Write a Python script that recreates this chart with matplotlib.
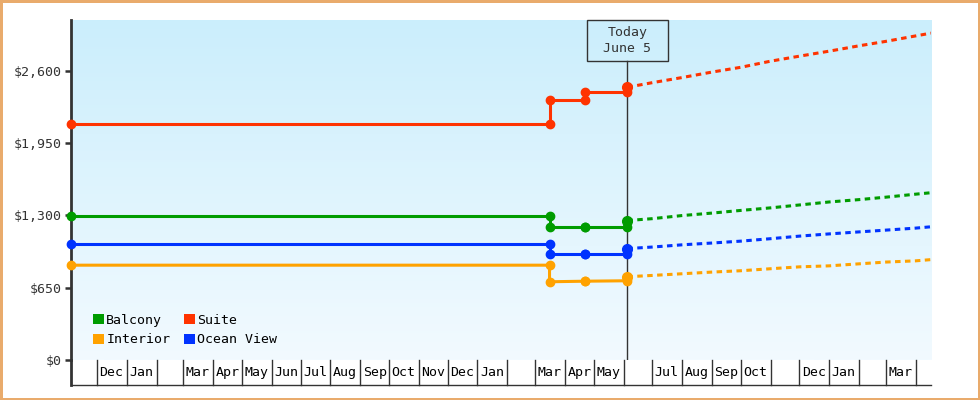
import numpy as np
import matplotlib
matplotlib.use('Agg')
import matplotlib.pyplot as plt
import matplotlib.dates as mdates
from matplotlib.patches import Patch, Rectangle

# ---------------- du lieu ----------------
x_start = np.datetime64('2022-11-04')
x_end = np.datetime64('2025-04-17')
today = np.datetime64('2024-06-05')

# gia lich su (bac thang, co diem o ca hai goc)
hist_dates = np.array(['2022-11-04', '2024-03-16', '2024-03-16',
                       '2024-04-22', '2024-04-22', '2024-06-05'], dtype='datetime64[D]')
suite_hist = [2122, 2122, 2337, 2337, 2412, 2412]
balcony_hist = [1291, 1291, 1199, 1199, 1199, 1199]
ocean_hist = [1046, 1046, 948, 948, 948, 948]
interior_hist = [852, 852, 703, 708, 708, 712]

# du bao (net dut)
fc_dates = np.array(['2024-06-05', '2024-07-01', '2024-08-01', '2024-09-01', '2024-10-01',
                     '2024-11-01', '2024-12-01', '2025-01-01', '2025-02-01', '2025-03-01',
                     '2025-04-01', '2025-04-17'], dtype='datetime64[D]')
suite_fc = [2451, 2492, 2538, 2587, 2630, 2685, 2730, 2775, 2823, 2863, 2912, 2937]
balcony_fc = [1253, 1270, 1298, 1320, 1344, 1367, 1393, 1420, 1441, 1463, 1490, 1503]
ocean_fc = [1001, 1015, 1035, 1051, 1068, 1090, 1113, 1133, 1151, 1167, 1185, 1197]
interior_fc = [748, 760, 775, 790, 802, 820, 837, 846, 864, 880, 891, 902]

y_ticks = [0, 650, 1300, 1950, 2600]

month_starts = np.arange(np.datetime64('2022-11'), np.datetime64('2025-05'),
                         dtype='datetime64[M]').astype('datetime64[D]')
month_labels = ['', 'Dec', 'Jan', '', 'Mar', 'Apr', 'May', 'Jun', 'Jul', 'Aug', 'Sep', 'Oct',
                'Nov', 'Dec', 'Jan', '', 'Mar', 'Apr', 'May', '', 'Jul', 'Aug', 'Sep', 'Oct',
                '', 'Dec', 'Jan', '', 'Mar', '']

# ---------------- style ----------------
C_BAL = '#009c00'
C_SUI = '#ff3300'
C_INT = '#ffa200'
C_OCE = '#0033ff'
DARK = '#333333'
plt.rcParams['font.family'] = ['DejaVu Sans Mono']
FS = 9.5

fig = plt.figure(figsize=(9.8, 4), dpi=100)
fig.patch.set_facecolor('white')
fig.patch.set_edgecolor('#e9ab6c')
fig.patch.set_linewidth(2.5)
ax = fig.add_axes([71 / 980, 40 / 400, 860 / 980, 340 / 400])

# nen gradient
grad = np.linspace(0, 1, 256).reshape(-1, 1)
top_c = np.array([203, 238, 252]) / 255
bot_c = np.array([242, 250, 255]) / 255
img = top_c[None, None, :] * (1 - grad[:, :, None]) + bot_c[None, None, :] * grad[:, :, None]
ax.imshow(img, extent=[0, 1, 0, 1], transform=ax.transAxes, aspect='auto', zorder=0)

series = [
    ('Balcony', C_BAL, balcony_hist, balcony_fc),
    ('Interior', C_INT, interior_hist, interior_fc),
    ('Suite', C_SUI, suite_hist, suite_fc),
    ('Ocean View', C_OCE, ocean_hist, ocean_fc),
]
for name, c, h, f in series:
    ax.plot(hist_dates, h, color=c, lw=2.2, marker='o', ms=6, zorder=4, clip_on=False)
    ax.plot(fc_dates, f, color=c, lw=2.2, linestyle=(0, (1.8, 1.45)), zorder=4)
    ax.plot(fc_dates[:1], f[:1], color=c, marker='o', ms=7, zorder=5, clip_on=False)

ax.set_xlim(x_start, x_end)
ax.set_ylim(0, 3055)

# truc y
for s in ['top', 'right', 'bottom']:
    ax.spines[s].set_visible(False)
ax.spines['left'].set_color(DARK)
ax.spines['left'].set_linewidth(2)
ax.set_yticks(y_ticks)
ax.set_yticklabels([f'${v:,.0f}' for v in y_ticks], fontsize=FS, color=DARK)
ax.tick_params(axis='y', length=4.5, width=1.8, color=DARK, pad=2)
ax.set_xticks([])

# bang thang duoi truc x
tr = ax.get_xaxis_transform()
cell_h = -25 / 340
ax.plot([0, 0], [0, cell_h], transform=ax.transAxes, color=DARK, lw=2, clip_on=False)
ax.plot([0, 1], [cell_h, cell_h], transform=ax.transAxes, color=DARK, lw=1, clip_on=False)
for i, ms_ in enumerate(month_starts):
    if x_start < ms_ < x_end:
        ax.plot([ms_, ms_], [0, cell_h], transform=tr, color=DARK, lw=1, clip_on=False)
    a = max(ms_, x_start)
    nxt = month_starts[i + 1] if i + 1 < len(month_starts) else x_end
    b = min(nxt, x_end)
    mid = a + (b - a) / 2
    if month_labels[i]:
        ax.text(mid, cell_h / 2, month_labels[i], transform=tr, ha='center', va='center',
                fontsize=FS, color='black')

# Today
ax.axvline(today, ymin=0, ymax=(360 - 60.7) / 340, color=DARK, lw=1, zorder=3)
box = Rectangle((today - np.timedelta64(42, 'D'), (360 - 60.7) / 340), np.timedelta64(84, 'D'),
                60.7 / 340 - 20 / 340 + 0.0, transform=tr, facecolor='none', edgecolor=DARK,
                lw=1, zorder=6, clip_on=False)
ax.add_patch(box)
ax.text(today, (360 - 40.5) / 340, 'Today\nJune 5', transform=tr, ha='center', va='center',
        fontsize=FS, color=DARK, linespacing=1.35, zorder=7)

# chu giai
handles = [Patch(facecolor=c, edgecolor='none', label=n) for n, c, _, _ in series]
ax.legend(handles=handles, ncol=2, loc='lower left', bbox_to_anchor=(0.025, 0.04),
          frameon=False, fontsize=FS, handlelength=0.85, handleheight=0.85,
          handletextpad=0.2, columnspacing=1.0, labelspacing=0.5, borderpad=0,
          borderaxespad=0)

fig.savefig('out.png', dpi=100)
